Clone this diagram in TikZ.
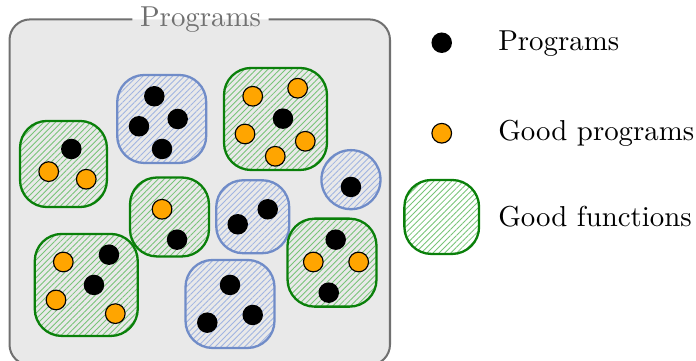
\documentclass[tikz,border=0pt]{standalone}
\usepackage{tikz}
\usetikzlibrary{patterns.meta}

\definecolor{boxgray}{RGB}{233,233,233}
\definecolor{boxline}{RGB}{112,112,112}
\definecolor{goodgreen}{RGB}{10,128,10}
\definecolor{hatchgreen}{RGB}{120,196,120}
\definecolor{funblue}{RGB}{112,140,200}
\definecolor{hatchblue}{RGB}{160,180,226}
\definecolor{progorange}{RGB}{255,165,0}

\begin{document}
\begin{tikzpicture}[
    prog/.style={circle,fill=black,inner sep=0,minimum size=0.25cm},
    goodprog/.style={circle,draw=black,line width=0.4,fill=progorange,
      inner sep=0,minimum size=0.24cm},
    fun/.style={rectangle,rounded corners=0.33cm,inner sep=0,line width=0.8},
    goodfun/.style={fun,draw=goodgreen,pattern color=hatchgreen,
      pattern={Lines[angle=45,distance=1.45pt,line width=0.3pt]}},
    otherfun/.style={fun,draw=funblue,pattern color=hatchblue,
      pattern={Lines[angle=45,distance=1.45pt,line width=0.3pt]}},
  ]

    \useasboundingbox (0,0) rectangle (8.488,4.402);

    % the big box of all programs
    \fill[boxgray,rounded corners=0.25cm] (0.116,-0.05) rectangle (4.756,4.165);
    \node[text=boxline,inner sep=2.5pt] (title) at (2.445,4.165) {Programs};
    \draw[boxline,line width=0.7,rounded corners=0.25cm]
      (title.east) -- (4.756,4.165) -- (4.756,-0.05) -- (0.116,-0.05)
      -- (0.116,4.165) -- (title.west);

    % functions
    \node[goodfun,minimum width=1.06cm,minimum height=1.05cm] (f1) at (0.774,2.402) {};
    \node[otherfun,minimum width=1.085cm,minimum height=1.073cm] (f2) at (1.972,2.951) {};
    \node[goodfun,minimum width=1.256cm,minimum height=1.244cm] (f3) at (3.360,2.951) {};
    \node[otherfun,rounded corners=0.36cm,minimum width=0.72cm,minimum height=0.72cm] (f4) at (4.280,2.211) {};
    \node[goodfun,minimum width=0.963cm,minimum height=0.963cm] (f5) at (2.067,1.756) {};
    \node[otherfun,minimum width=0.89cm,minimum height=0.89cm] (f6) at (3.082,1.759) {};
    \node[goodfun,minimum width=1.085cm,minimum height=1.073cm] (f7) at (4.049,1.199) {};
    \node[goodfun,minimum width=1.256cm,minimum height=1.244cm] (f8) at (1.052,0.927) {};
    \node[otherfun,minimum width=1.085cm,minimum height=1.073cm] (f9) at (2.805,0.695) {};

    % programs inside the functions
    \node[prog] (p1a) at (0.870,2.585) {};
    \node[goodprog] (p1b) at (0.594,2.309) {};
    \node[goodprog] (p1c) at (1.052,2.216) {};

    \node[prog] (p2a) at (1.882,3.228) {};
    \node[prog] (p2b) at (1.695,2.862) {};
    \node[prog] (p2c) at (2.167,2.951) {};
    \node[prog] (p2d) at (1.976,2.585) {};

    \node[goodprog] (p3a) at (3.082,3.228) {};
    \node[goodprog] (p3b) at (3.630,3.326) {};
    \node[prog] (p3c) at (3.451,2.955) {};
    \node[goodprog] (p3d) at (2.988,2.768) {};
    \node[goodprog] (p3e) at (3.723,2.679) {};
    \node[goodprog] (p3f) at (3.357,2.496) {};

    \node[prog] (p4a) at (4.280,2.122) {};

    \node[goodprog] (p5a) at (1.976,1.850) {};
    \node[prog] (p5b) at (2.159,1.479) {};

    \node[prog] (p6a) at (2.899,1.667) {};
    \node[prog] (p6b) at (3.265,1.850) {};

    \node[prog] (p7a) at (4.094,1.479) {};
    \node[goodprog] (p7b) at (3.821,1.207) {};
    \node[goodprog] (p7c) at (4.374,1.207) {};
    \node[prog] (p7d) at (4.009,0.833) {};

    \node[goodprog] (p8a) at (0.772,1.207) {};
    \node[prog] (p8b) at (1.329,1.296) {};
    \node[prog] (p8c) at (1.146,0.927) {};
    \node[goodprog] (p8d) at (0.683,0.744) {};
    \node[goodprog] (p8e) at (1.406,0.577) {};

    \node[prog] (p9a) at (2.805,0.927) {};
    \node[prog] (p9b) at (2.528,0.467) {};
    \node[prog] (p9c) at (3.082,0.561) {};

    % legend
    \node[prog] (lprog) at (5.387,3.881) {};
    \node[anchor=base west,inner sep=0] (lprogtext) at (6.07,3.784) {Programs};

    \node[goodprog] (lgood) at (5.387,2.777) {};
    \node[anchor=base west,inner sep=0] (lgoodtext) at (6.07,2.683) {Good programs};

    \node[goodfun,minimum width=0.911cm,minimum height=0.902cm] (lfun) at (5.387,1.756) {};
    \node[anchor=base west,inner sep=0] (lfuntext) at (6.07,1.638) {Good functions};

  \end{tikzpicture}
\end{document}
